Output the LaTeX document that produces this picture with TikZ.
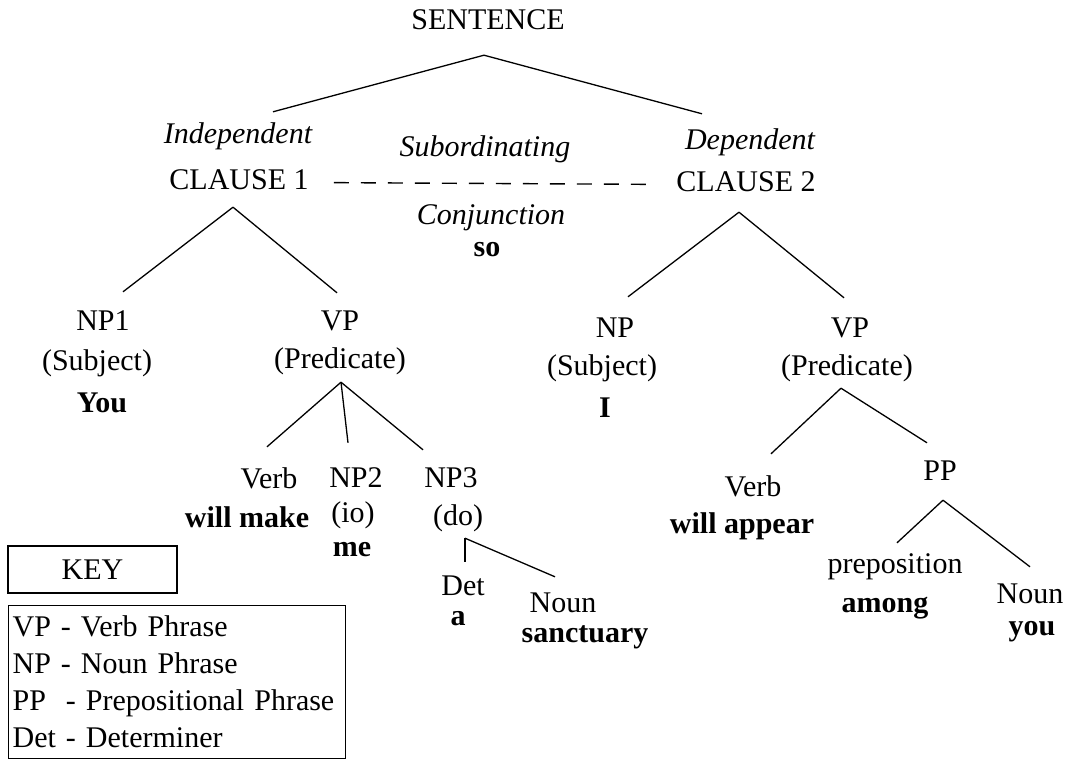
\documentclass[tikz,border=0pt]{standalone}
\usepackage{fontspec}
\setmainfont{Liberation Serif}
\newcommand{\treesize}{\fontsize{30}{37}\selectfont}
\tikzset{
  lab/.style={anchor=base, inner sep=0pt, text height=21pt, text depth=6pt, font=\treesize},
  word/.style={anchor=base, inner sep=0pt, font=\treesize\bfseries},
  kind/.style={lab, font=\treesize\itshape},
  branch/.style={line width=1.3pt},
  conjline/.style={line width=1.4pt, dash pattern=on 15pt off 12pt, shorten <=25pt, shorten >=26pt},
  keybox/.style={draw, line width=1.3pt, font=\treesize},
}
\begin{document}
\begin{tikzpicture}[x=1pt, y=-1pt]
      \useasboundingbox (0,0) rectangle (1070,759);
      \draw
        (488,30) node[lab] (sent) {SENTENCE}
        (238,144) node[kind] (indep) {Independent}
        (239,190) node[lab] (clauseA) {CLAUSE 1}
        (485,157) node[kind] (subord) {Subordinating}
        (491,225) node[kind] (conj) {Conjunction}
        (487,257) node[word] (so) {so}
        (750,150) node[kind] (dep) {Dependent}
        (746,192) node[lab] (clauseB) {CLAUSE 2}
        (103,330) node[lab] (npA) {NP1}
        (97,370) node[lab] (subjA) {(Subject)}
        (102,412) node[word] (youA) {You}
        (340,330) node[lab] (vpA) {VP}
        (340,368) node[lab] (predA) {(Predicate)}
        (269,488) node[lab] (verbA) {Verb}
        (247,527) node[word] (make) {will make}
        (356,487) node[lab] (npTwo) {NP2}
        (353,522) node[lab] (io) {(io)}
        (352,556) node[word] (me) {me}
        (451,487) node[lab] (npThree) {NP3}
        (458,525) node[lab] (doObj) {(do)}
        (463,595) node[lab] (det) {Det}
        (458,625) node[word] (a) {a}
        (563,612) node[lab] (nounA) {Noun}
        (585,642) node[word] (sanct) {sanctuary}
        (615,337) node[lab] (npB) {NP}
        (602,375) node[lab] (subjB) {(Subject)}
        (605,417) node[word] (I) {I}
        (850,337) node[lab] (vpB) {VP}
        (847,375) node[lab] (predB) {(Predicate)}
        (753,496) node[lab] (verbB) {Verb}
        (742,533) node[word] (appear) {will appear}
        (940,480) node[lab] (ppB) {PP}
        (895,573) node[lab] (prep) {preposition}
        (885,612) node[word] (among) {among}
        (1030,603) node[lab] (nounB) {Noun}
        (1032,635) node[word] (youB) {you};
      \begin{scope}[branch]
        \draw ([xshift=-4pt,yshift=-19pt]sent.south) to ([xshift=35pt,yshift=11pt]indep.north);
        \draw ([xshift=-4pt,yshift=-19pt]sent.south) to ([xshift=-48pt,yshift=15pt]dep.north);
        \draw ([xshift=-6pt,yshift=-11pt]clauseA.south) to ([xshift=20pt,yshift=17pt]npA.north);
        \draw ([xshift=-6pt,yshift=-11pt]clauseA.south) to ([xshift=-3pt,yshift=16pt]vpA.north);
        \draw ([xshift=-7pt,yshift=-14pt]clauseB.south) to ([xshift=13pt,yshift=19pt]npB.north);
        \draw ([xshift=-7pt,yshift=-14pt]clauseB.south) to ([xshift=-6pt,yshift=18pt]vpB.north);
        \draw ([xshift=1pt,yshift=-8pt]predA.south) to ([xshift=-2pt,yshift=20pt]verbA.north);
        \draw ([xshift=1pt,yshift=-8pt]predA.south) to ([xshift=-8pt,yshift=23pt]npTwo.north);
        \draw ([xshift=1pt,yshift=-8pt]predA.south) to ([xshift=-28pt,yshift=16pt]npThree.north);
        \draw ([xshift=7pt,yshift=-7pt]doObj.south) to ([xshift=2pt,yshift=12pt]det.north);
        \draw ([xshift=7pt,yshift=-7pt]doObj.south) to ([xshift=-8pt,yshift=14pt]nounA.north);
        \draw ([xshift=-6pt,yshift=-7pt]predB.south) to ([xshift=18pt,yshift=21pt]verbB.north);
        \draw ([xshift=-6pt,yshift=-7pt]predB.south) to ([xshift=-13pt,yshift=16pt]ppB.north);
        \draw ([xshift=3pt,yshift=-14pt]ppB.south) to ([xshift=2pt,yshift=9pt]prep.north);
        \draw ([xshift=3pt,yshift=-14pt]ppB.south) to ([yshift=15pt]nounB.north);
      \end{scope}
      \draw[conjline] (clauseA.east) -- (clauseB.west);
      % key
      \node[keybox, minimum width=169pt, minimum height=47pt, inner sep=0pt] (key) at (92.5,569.5) {KEY};
      \node[keybox, anchor=north west, text width=329pt, inner xsep=4pt, inner ysep=0pt,
        minimum height=153pt, align=left] (keyList) at (8,605)
        {VP - Verb Phrase\\NP - Noun Phrase\\PP~~- Prepositional Phrase\\Det - Determiner};
    \end{tikzpicture}
\end{document}
